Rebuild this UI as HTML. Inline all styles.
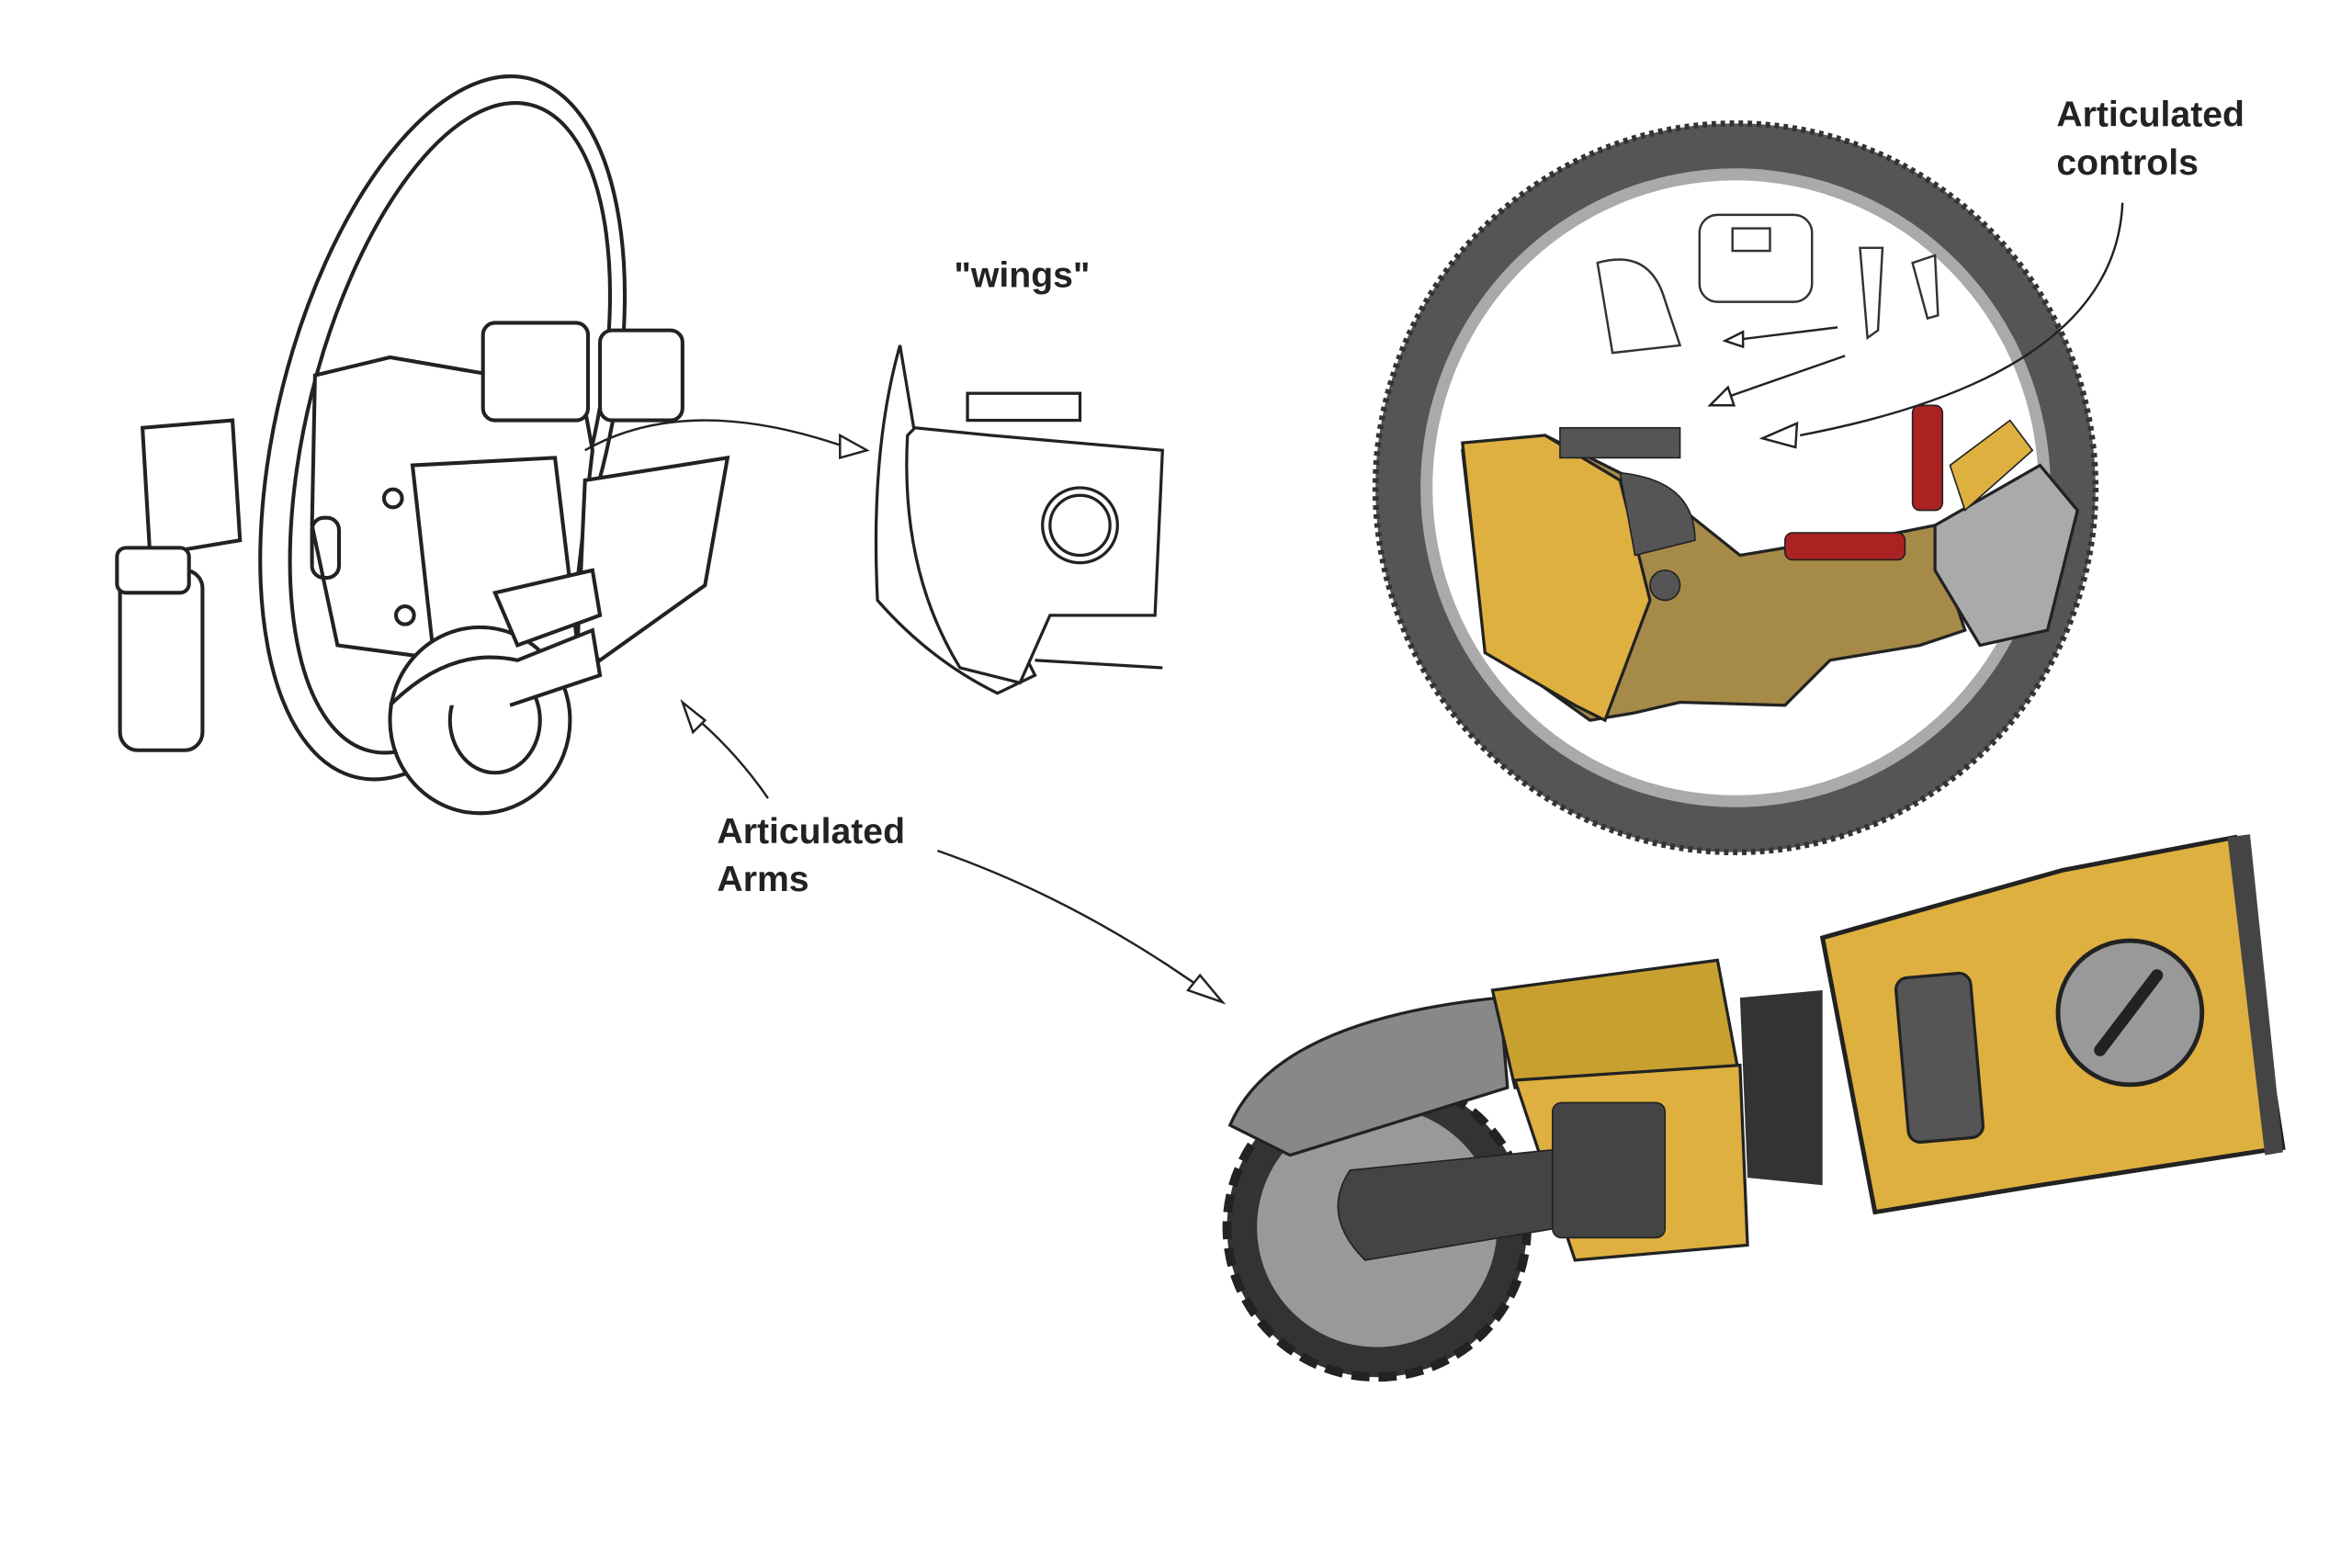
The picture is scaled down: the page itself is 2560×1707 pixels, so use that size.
<!DOCTYPE html>
<html><head><style>
html,body{margin:0;padding:0;background:#fff;}
svg{display:block}
text{font-family:"Liberation Sans",sans-serif;font-weight:bold;fill:#222;}
</style></head><body>
<svg width="2560" height="1707" viewBox="0 0 1568 1045" xmlns="http://www.w3.org/2000/svg">
<rect width="1568" height="1045" fill="#fff"/>
<!-- LEFT line drawing -->
<g fill="none" stroke="#222" stroke-width="2.5">
<ellipse cx="295" cy="285" rx="110" ry="240" transform="rotate(14 295 285)"/>
<ellipse cx="300" cy="285" rx="95" ry="222" transform="rotate(14 300 285)"/>
<path d="M210 250 L260 238 L330 250 L385 245 L395 300 L380 430 L300 440 L225 430 L208 350 Z" fill="#fff"/>
<path d="M275 310 L370 305 L385 430 L290 445 Z" fill="#fff"/>
<rect x="322" y="215" width="70" height="65" rx="8" fill="#fff"/>
<rect x="400" y="220" width="55" height="60" rx="8" fill="#fff"/>
<path d="M95 285 L155 280 L160 360 L100 370 Z" fill="#fff"/>
<rect x="80" y="380" width="55" height="120" rx="12" fill="#fff"/>
<rect x="78" y="365" width="48" height="30" rx="6" fill="#fff"/>
<path d="M390 320 L485 305 L470 390 L400 440 L385 430 Z" fill="#fff"/>
<ellipse cx="320" cy="480" rx="60" ry="62" fill="#fff"/>
<ellipse cx="330" cy="480" rx="30" ry="35"/>
<path d="M260 470 Q300 430 345 440 L395 420 L400 450 L340 470" fill="#fff"/>
<path d="M330 395 L395 380 L400 410 L345 430 Z" fill="#fff"/>
<circle cx="262" cy="332" r="6"/><circle cx="270" cy="410" r="6"/>
<rect x="208" y="345" width="18" height="40" rx="8"/>
</g>
<!-- wings -->
<g fill="none" stroke="#222" stroke-width="2">
<path d="M600 230 Q580 300 585 400 Q620 440 665 462 L690 450 L610 290 Z" fill="#fff"/>
<path d="M610 285 L660 290 L775 300 L770 410 L700 410 L680 455 L640 445 Q600 380 605 290 Z" fill="#fff"/>
<circle cx="720" cy="350" r="25"/><circle cx="720" cy="350" r="20"/>
<rect x="645" y="262" width="75" height="18"/>
<path d="M690 440 L775 445"/>
</g>
<!-- big wheel -->
<ellipse cx="1157" cy="325" rx="240" ry="243" fill="#555" stroke="#333" stroke-width="4" stroke-dasharray="3 3"/>
<ellipse cx="1157" cy="325" rx="210" ry="213" fill="#aaa"/>
<ellipse cx="1157" cy="325" rx="202" ry="205" fill="#fff"/>
<path d="M975 300 L1030 290 L1080 315 L1110 330 L1160 370 L1190 365 L1240 360 L1290 350 L1300 390 L1310 420 L1280 430 L1220 440 L1190 470 L1120 468 L1090 475 L1060 480 L990 430 Z" fill="#a68a48" stroke="#222" stroke-width="2"/>
<path d="M975 295 L1030 290 L1080 320 L1100 400 L1070 480 L1050 470 L990 435 Z" fill="#deb040" stroke="#222" stroke-width="2"/>
<path d="M1080 315 Q1130 320 1130 360 L1090 370 Z" fill="#555" stroke="#222"/>
<rect x="1040" y="285" width="80" height="20" fill="#555" stroke="#222"/>
<rect x="1275" y="270" width="20" height="70" rx="5" fill="#a22" stroke="#222"/>
<rect x="1190" y="355" width="80" height="18" rx="5" fill="#a22" stroke="#222"/>
<path d="M1290 350 L1360 310 L1385 340 L1365 420 L1320 430 L1290 380 Z" fill="#aaa" stroke="#222" stroke-width="2"/>
<path d="M1300 310 L1340 280 L1355 300 L1310 340 Z" fill="#deb040" stroke="#222"/>
<circle cx="1110" cy="390" r="10" fill="#555" stroke="#222"/>
<!-- controls sketches -->
<g fill="none" stroke="#333" stroke-width="1.5">
<rect x="1133" y="143" width="75" height="58" rx="12" fill="#fff"/>
<rect x="1155" y="152" width="25" height="15"/>
<path d="M1065 175 Q1100 165 1110 200 L1120 230 L1075 235 Z" fill="#fff"/>
<path d="M1240 165 L1255 165 L1252 220 L1245 225 Z" fill="#fff"/>
<path d="M1275 175 L1290 170 L1292 210 L1285 212 Z" fill="#fff"/>
</g>
<!-- arm assembly -->
<path d="M1215 625 L1375 580 L1490 558 L1522 765 L1360 790 L1250 808 Z" fill="#deb040" stroke="#222" stroke-width="3"/>
<path d="M1485 558 L1500 556 L1522 768 L1510 770 Z" fill="#444"/>
<circle cx="1420" cy="675" r="48" fill="#999" stroke="#222" stroke-width="3"/>
<path d="M1400 700 L1438 650" stroke="#222" stroke-width="8" stroke-linecap="round"/>
<rect x="1268" y="650" width="50" height="110" rx="8" fill="#555" stroke="#222" stroke-width="2" transform="rotate(-5 1293 705)"/>
<path d="M1160 665 L1215 660 L1215 790 L1165 785 Z" fill="#333"/>
<circle cx="918" cy="818" r="100" fill="#333" stroke="#222" stroke-width="6" stroke-dasharray="12 6"/>
<circle cx="918" cy="818" r="80" fill="#999"/>
<path d="M820 750 Q850 680 1000 665 L1005 725 L860 770 Z" fill="#888" stroke="#222" stroke-width="2"/>
<path d="M995 660 L1145 640 L1160 720 L1010 725 Z" fill="#c8a030" stroke="#222" stroke-width="2"/>
<path d="M1010 720 L1160 710 L1165 830 L1050 840 Z" fill="#deb040" stroke="#222" stroke-width="2"/>
<path d="M900 780 L1050 765 L1060 815 L910 840 Q880 810 900 780 Z" fill="#444" stroke="#222"/>
<rect x="1035" y="735" width="75" height="90" rx="6" fill="#444" stroke="#222"/>
<!-- arrows (on top) -->
<g fill="none" stroke="#222" stroke-width="1.5">
<path d="M390 300 Q460 260 570 300"/><path d="M560 290 L578 300 L560 305 Z" fill="#fff"/>
<path d="M512 532 Q490 500 460 475"/><path d="M455 468 L470 480 L462 488 Z" fill="#fff"/>
<path d="M625 567 Q720 600 810 665"/><path d="M815 668 L792 660 L800 650 Z" fill="#fff"/>
<path d="M1415 135 Q1410 250 1200 290"/><path d="M1175 292 L1198 282 L1197 298 Z" fill="#fff"/>
<path d="M1230 237 L1150 265"/><path d="M1140 270 L1152 258 L1156 270 Z" fill="#fff"/>
<path d="M1225 218 L1160 226"/><path d="M1150 227 L1162 221 L1162 231 Z" fill="#fff"/>
</g>
<!-- labels -->
<text x="636" y="191" font-size="24">"wings"</text>
<text x="478" y="562" font-size="24">Articulated</text>
<text x="478" y="594" font-size="24">Arms</text>
<text x="1371" y="84" font-size="24">Articulated</text>
<text x="1371" y="116" font-size="24">controls</text>
</svg>
</body></html>
